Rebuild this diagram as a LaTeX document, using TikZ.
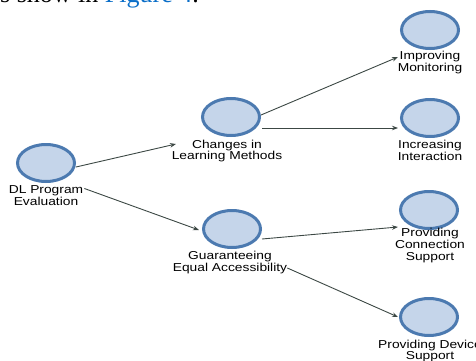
\documentclass[tikz,border=0pt]{standalone}
\usepackage{fontspec}
\usepackage{graphicx}
\setmainfont{Liberation Serif}
\newfontfamily\lblfont{Liberation Sans}
\usetikzlibrary{shapes.geometric,arrows.meta}
\definecolor{nodefill}{RGB}{197,213,234}
\definecolor{nodeedge}{RGB}{76,122,176}
\definecolor{edgecol}{RGB}{60,72,68}
\definecolor{figblue}{RGB}{10,110,200}
\newcommand\lbl[1]{\scalebox{1.2}[1]{\lblfont\fontsize{11.5}{11.5}\selectfont\begin{tabular}{@{}c@{}}#1\end{tabular}}}
\tikzset{
  vert/.style={ellipse, draw=nodeedge, fill=nodefill, line width=3pt, minimum width=57pt, minimum height=37pt, inner sep=0pt},
  vlabel/.style={inner sep=0pt, text=black},
  link/.style={draw=edgecol, line width=0.9pt, -{Stealth[length=6pt,width=4.5pt]}}
}
\begin{document}
\begin{tikzpicture}[x=1pt,y=-1pt]
\useasboundingbox (0,0) rectangle (476,361);
\clip (0,0) rectangle (476,361);
% fragment of running text above the figure
\node[anchor=base west, inner sep=0pt, font=\fontsize{26}{30}\selectfont] (cap) at (0,2.5) {s show in \textcolor{figblue}{Figure 4}.};
% vertices
\node[vert] (dl)  at (46,163) {};
\node[vert] (chg) at (231,117) {};
\node[vert] (imp) at (430,30) {};
\node[vert] (inc) at (430,118) {};
\node[vert] (gua) at (232,229) {};
\node[vert] (con) at (429,210) {};
\node[vert] (dev) at (429,317) {};
% labels
\node[vlabel] (dlL)  at (46,197.5) {\lbl{DL Program\\Evaluation}};
\node[vlabel] (chgL) at (227,151.5) {\lbl{Changes in\\Learning Methods}};
\node[vlabel] (impL) at (430,63) {\lbl{Improving\\Monitoring}};
\node[vlabel] (incL) at (430,152) {\lbl{Increasing\\Interaction}};
\node[vlabel] (guaL) at (230,263) {\lbl{Guaranteeing\\Equal Accessibility}};
\node[vlabel] (conL) at (430,246) {\lbl{Providing\\Connection\\Support}};
\node[vlabel] (devL) at (430,351.5) {\lbl{Providing Device\\Support}};
% arrow ends
\coordinate (tChg) at (176,144);
\coordinate (tGua) at (199,230);
\coordinate (tImp) at (398,57);
\coordinate (tInc) at (398,128);
\coordinate (tCon) at (398,227);
\coordinate (tDev) at (398,317);
% connectors
\draw[link] (dl.east) ++(0,4) -- (tChg);
\draw[link] (dlL.east) ++(1,-9) -- (tGua);
\draw[link] (chg.east) ++(0,-2) -- (tImp);
\draw[link] (chg.east) ++(1,11) -- (tInc);
\draw[link] (gua.east) ++(0,10) -- (tCon);
\draw[link] (guaL.east) ++(0,5) -- (tDev);
\end{tikzpicture}
\end{document}
